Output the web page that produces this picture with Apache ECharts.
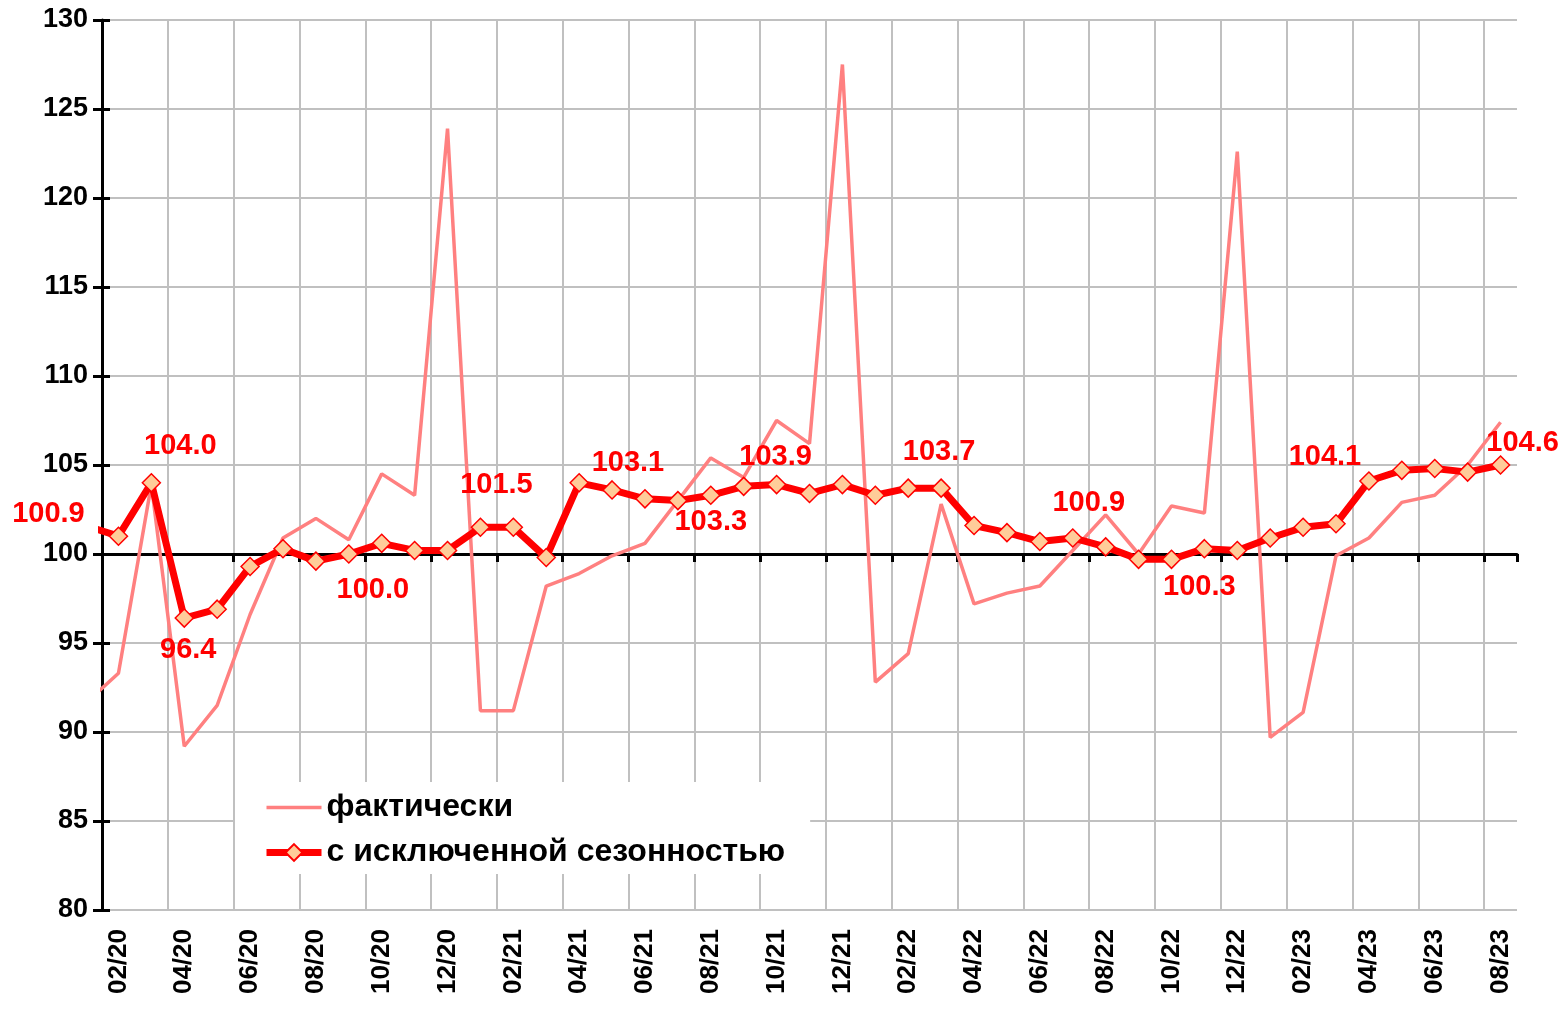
<!DOCTYPE html>
<html>
<head>
<meta charset="utf-8">
<script src="https://cdn.jsdelivr.net/npm/echarts@6/dist/echarts.min.js"></script>
<style>
    html, body { margin: 0; padding: 0; background: #fff; }
    #chart { width: 1563px; height: 1009px; }
</style>
</head>
<body>
<div id="chart"></div>
<script>
// months; 01/20 sits left of the plot, only its segment into 02/20 shows
var months = ['01/20', '02/20', '03/20', '04/20', '05/20', '06/20', '07/20', '08/20', '09/20', '10/20', '11/20', '12/20',
    '01/21', '02/21', '03/21', '04/21', '05/21', '06/21', '07/21', '08/21', '09/21', '10/21', '11/21', '12/21',
    '01/22', '02/22', '03/22', '04/22', '05/22', '06/22', '07/22', '08/22', '09/22', '10/22', '11/22', '12/22',
    '01/23', '02/23', '03/23', '04/23', '05/23', '06/23', '07/23', '08/23'];

// фактически
var actual = [91.6, 93.3, 103.9, 89.2, 91.5, 96.6, 100.9, 102.0, 100.8, 104.5, 103.3, 123.9,
    91.2, 91.2, 98.2, 98.9, 99.9, 100.6, 103.0, 105.4, 104.3, 107.5, 106.2, 127.5,
    92.8, 94.4, 102.8, 97.2, 97.8, 98.2, 100.2, 102.2, 100.0, 102.7, 102.3, 122.6,
    89.7, 91.1, 99.9, 100.9, 102.9, 103.3, 105.0, 107.4];

// с исключенной сезонностью
var seasonAdj = [101.6, 101.0, 104.0, 96.4, 96.9, 99.3, 100.3, 99.6, 100.0, 100.6, 100.2, 100.2,
    101.5, 101.5, 99.8, 104.0, 103.6, 103.1, 103.0, 103.3, 103.8, 103.9, 103.4, 103.9,
    103.3, 103.7, 103.7, 101.6, 101.2, 100.7, 100.9, 100.4, 99.7, 99.7, 100.3, 100.2,
    100.9, 101.5, 101.7, 104.1, 104.7, 104.8, 104.6, 105.0];

// data labels written on the seasonally adjusted line
var labelMonths = ['02/20', '03/20', '04/20', '09/20', '01/21', '06/21', '08/21', '10/21', '03/22', '07/22', '11/22', '04/23', '08/23'];
var labelTexts = ['100.9', '104.0', '96.4', '100.0', '101.5', '103.1', '103.3', '103.9', '103.7', '100.9', '100.3', '104.1', '104.6'];

// where each label sits relative to its marker (px)
var labelShift = [[-70, -22], [29, -37], [4, 32], [24, 36], [16, -42], [-17, -36], [0, 27],
    [-1, -28], [-2, -36], [16, -35], [-5, 38], [-44, -24], [22, -22]];

var FONT = '"Liberation Sans", Arial, sans-serif';

function everySecond(i) {
    return i % 2 === 1;
}

// vertical gridlines come from a hidden band-count axis: one line every 2 months,
// none at the right edge
var bandCount = months.length - 1;
var vLineColors = [];
for (var c = 0; c <= bandCount / 2 + 1; c++) {
    vLineColors.push(c * 2 >= bandCount ? 'rgba(0,0,0,0)' : '#C0C0C0');
}

var adjData = seasonAdj.map(function(v, i) {
    var k = labelMonths.indexOf(months[i]);
    if (k < 0) return v;
    return {
        value: v,
        label: {
            show: true,
            position: 'inside',
            formatter: labelTexts[k],
            offset: labelShift[k],
            color: '#FF0000',
            fontSize: 29,
            fontWeight: 'bold',
            fontFamily: FONT
        }
    };
});

var chart = echarts.init(document.getElementById('chart'));
chart.setOption({
    animation: false,
    backgroundColor: '#fff',
    grid: {
        left: 102,
        right: 46,
        top: 20,
        bottom: 99
    },
    legend: {
        data: ['фактически', 'с исключенной сезонностью'],
        orient: 'vertical',
        left: 235,
        top: 782,
        backgroundColor: '#fff',
        padding: [9, 25, 5, 28],
        itemWidth: 55,
        itemHeight: 21,
        itemGap: 12,
        lineStyle: { width: 'inherit' },
        textStyle: {
            fontSize: 32,
            fontWeight: 'bold',
            color: '#000',
            fontFamily: FONT,
            lineHeight: 33
        }
    },
    xAxis: [{
        type: 'category',
        data: months,
        min: 1,
        boundaryGap: true,
        axisLine: { show: false },
        axisTick: { show: false },
        axisLabel: {
            interval: everySecond,
            rotate: 90,
            margin: 19,
            fontSize: 26,
            fontWeight: 'bold',
            color: '#000',
            fontFamily: FONT
        },
        splitLine: { show: false }
    }, {
        // the black line across at 100, with its ticks
        type: 'category',
        data: months,
        min: 1,
        boundaryGap: true,
        position: 'bottom',
        offset: -356,
        axisLine: { show: true, lineStyle: { color: '#000', width: 3 } },
        axisTick: { show: true, interval: everySecond, length: 8, lineStyle: { color: '#000', width: 3 } },
        axisLabel: { show: false },
        splitLine: { show: false }
    }, {
        type: 'value',
        position: 'top',
        min: 0,
        max: bandCount,
        interval: 2,
        axisLine: { show: false },
        axisTick: { show: false },
        axisLabel: { show: false },
        splitLine: {
            show: true,
            showMaxLine: false,
            lineStyle: { color: vLineColors, width: 2 }
        }
    }],
    yAxis: [{
        type: 'value',
        min: 80,
        max: 130,
        interval: 5,
        axisLine: { show: true, lineStyle: { color: '#000', width: 3 } },
        axisTick: { show: true, length: 9, lineStyle: { color: '#000', width: 3 } },
        axisLabel: {
            margin: 14,
            fontSize: 27,
            fontWeight: 'bold',
            color: '#000',
            fontFamily: FONT
        },
        splitLine: { lineStyle: { color: '#C0C0C0', width: 2 } }
    }, {
        // inner half of the crossing ticks
        type: 'value',
        min: 80,
        max: 130,
        interval: 5,
        position: 'left',
        axisLine: { show: false },
        axisTick: { show: true, inside: true, length: 8, lineStyle: { color: '#000', width: 3 } },
        axisLabel: { show: false },
        splitLine: { show: false }
    }],
    series: [{
        name: 'фактически',
        type: 'line',
        data: actual,
        symbol: 'none',
        z: 2,
        lineStyle: { color: '#FF8080', width: 3.5 },
        itemStyle: { color: 'rgba(255,128,128,0)' }
    }, {
        name: 'с исключенной сезонностью',
        type: 'line',
        data: adjData,
        symbol: 'diamond',
        symbolSize: 18,
        z: 3,
        lineStyle: { color: '#FF0000', width: 7 },
        itemStyle: { color: '#FFCC99', borderColor: '#FF0000', borderWidth: 1.5 }
    }]
});
</script>
</body>
</html>
